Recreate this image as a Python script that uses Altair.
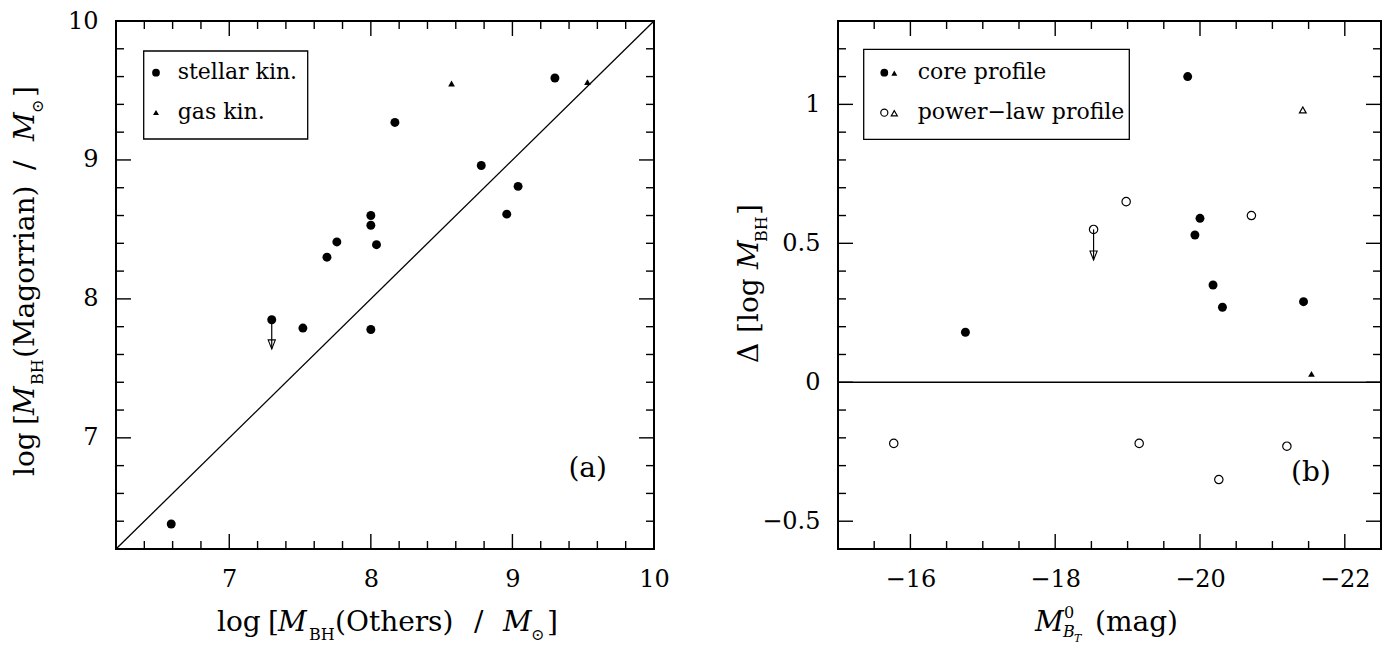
import altair as alt
import pandas as pd

FONT = "DejaVu Serif"

# ---------------- panel (a) data ----------------
a_stellar_x = [6.59, 7.30, 7.52, 8.00, 7.69, 7.76, 8.00, 8.00, 8.04, 8.17, 8.78, 8.96, 9.04, 9.30]
a_stellar_y = [6.38, 7.85, 7.79, 7.78, 8.30, 8.41, 8.60, 8.53, 8.39, 9.27, 8.96, 8.61, 8.81, 9.59]
a_gas_x = [8.57, 9.53]
a_gas_y = [9.55, 9.56]
a_limit_x = [7.30]
a_limit_from = [7.85]
a_limit_to = [7.64]
a_line_x = [6.2, 10.0]
a_line_y = [6.2, 10.0]
a_major = [7, 8, 9, 10]
a_minor = [6.4, 6.6, 6.8, 7.2, 7.4, 7.6, 7.8, 8.2, 8.4, 8.6, 8.8, 9.2, 9.4, 9.6, 9.8]

# ---------------- panel (b) data ----------------
b_core_circ_x = [-16.76, -19.83, -20.00, -19.93, -20.18, -20.31, -21.43]
b_core_circ_y = [0.18, 1.10, 0.59, 0.53, 0.35, 0.27, 0.29]
b_core_tri_x = [-21.54]
b_core_tri_y = [0.03]
b_pl_circ_x = [-15.77, -18.53, -18.98, -19.16, -20.71, -20.26, -21.20]
b_pl_circ_y = [-0.22, 0.55, 0.65, -0.22, 0.60, -0.35, -0.23]
b_pl_tri_x = [-21.42]
b_pl_tri_y = [0.98]
b_limit_x = [-18.53]
b_limit_from = [0.55]
b_limit_to = [0.44]
b_zero = [0.0]
b_x_major = [-16, -18, -20, -22]
b_x_minor = [-15.5, -16.5, -17, -17.5, -18.5, -19, -19.5, -20.5, -21, -21.5]
b_y_major = [-0.5, 0, 0.5, 1]
b_y_minor = [-0.4, -0.3, -0.2, -0.1, 0.1, 0.2, 0.3, 0.4, 0.6, 0.7, 0.8, 0.9, 1.1, 1.2]

W_A, W_B, H = 538, 543, 528
T_MAJ, T_MIN = 15, 8
ARROW_HEAD = "M0,0 L-0.8,-2 L0.8,-2 Z"


def one():
    return pd.DataFrame({"k": [0]})


def piece(t, x, y, size, italic=False, angle=0, align="left", baseline="alphabetic"):
    kw = dict(font=FONT, fontSize=size, align=align, baseline=baseline, color="black")
    if italic:
        kw["fontStyle"] = "italic"
    if angle:
        kw["angle"] = angle
    return alt.Chart(one()).mark_text(**kw).encode(
        x=alt.value(x), y=alt.value(y), text=alt.value(t))


def sym(x, y, shape, size, filled=True):
    kw = dict(shape=shape, size=size, filled=filled, color="black", opacity=1)
    if not filled:
        kw["strokeWidth"] = 1.2
    return alt.Chart(one()).mark_point(**kw).encode(x=alt.value(x), y=alt.value(y))


def tick_layers(X, Y, xmaj, xmin, ymaj, ymin, W):
    out = []
    for vals, L in ((xmaj, T_MAJ), (xmin, T_MIN)):
        df = pd.DataFrame({"v": vals})
        base = alt.Chart(df).mark_rule(color="black", strokeWidth=1.4)
        out.append(base.encode(x=X("v"), y=alt.value(H), y2=alt.value(H - L)))
        out.append(base.encode(x=X("v"), y=alt.value(0), y2=alt.value(L)))
    for vals, L in ((ymaj, T_MAJ), (ymin, T_MIN)):
        df = pd.DataFrame({"v": vals})
        base = alt.Chart(df).mark_rule(color="black", strokeWidth=1.4)
        out.append(base.encode(y=Y("v"), x=alt.value(0), x2=alt.value(L)))
        out.append(base.encode(y=Y("v"), x=alt.value(W), x2=alt.value(W - L)))
    return out


def axis(values):
    return alt.Axis(values=values, title=None, ticks=False, tickSize=0, domain=False,
                    grid=False, labelFont=FONT, labelFontSize=24, labelColor="black",
                    labelPadding=18, labelFlush=False, labelOverlap=False, format="~r")


# ================= panel (a) =================
sa = alt.Scale(domain=[6.2, 10], nice=False, zero=False)
XA = lambda f: alt.X(f, type="quantitative", scale=sa, axis=axis(a_major))
YA = lambda f: alt.Y(f, type="quantitative", scale=sa, axis=axis(a_major))

la = tick_layers(XA, YA, a_major, a_minor, a_major, a_minor, W_A)
la.append(alt.Chart(pd.DataFrame({"x": a_line_x, "y": a_line_y})).mark_line(
    color="black", strokeWidth=1.3).encode(x=XA("x"), y=YA("y")))
# legend
la.append(alt.Chart(one()).mark_rect(fill="white", stroke="black", strokeWidth=1.3).encode(
    x=alt.value(27.7), x2=alt.value(191.7), y=alt.value(30), y2=alt.value(118)))
la.append(sym(40, 51.7, "circle", 60))
la.append(sym(40, 91.5, "triangle-up", 36))
la.append(piece("stellar kin.", 61.7, 58.3, 22))
la.append(piece("gas kin.", 61.7, 98, 22))
# data
la.append(alt.Chart(pd.DataFrame({"x": a_stellar_x, "y": a_stellar_y})).mark_point(
    shape="circle", filled=True, size=80, color="black", opacity=1).encode(x=XA("x"), y=YA("y")))
la.append(alt.Chart(pd.DataFrame({"x": a_gas_x, "y": a_gas_y})).mark_point(
    shape="triangle-up", filled=True, size=45, color="black", opacity=1).encode(x=XA("x"), y=YA("y")))
dfa_lim = pd.DataFrame({"x": a_limit_x, "y": a_limit_from, "y2": a_limit_to})
la.append(alt.Chart(dfa_lim).mark_rule(color="black", strokeWidth=1.2).encode(
    x=XA("x"), y=YA("y"), y2=alt.Y2("y2")))
la.append(alt.Chart(dfa_lim).mark_point(shape=ARROW_HEAD, filled=False, size=81, color="black",
                                         strokeWidth=1.1, opacity=1).encode(x=XA("x"), y=YA("y2")))
la.append(piece("(a)", 471.7, 447.5, 28, align="center", baseline="middle"))
# x title
XT = 610
for t, x, y, s, it in [("log", 101, XT, 28, False), ("[", 152, XT, 28, False),
                       ("M", 162, XT, 28, True), ("BH", 193, XT + 9, 16, False),
                       ("(Others)", 219, XT, 28, False), ("/", 358, XT, 28, False),
                       ("M", 387, XT, 28, True), ("\u2299", 415, XT + 9, 16, False),
                       ("]", 431, XT, 28, False)]:
    la.append(piece(t, x, y, s, italic=it))
# y title (rotated)
YB, YS = -82, -73
for t, s_, x, s, it in [("log", 0, YB, 28, False), ("[", 51, YB, 28, False),
                        ("M", 61, YB, 28, True), ("BH", 91, YS, 16, False),
                        ("(Magorrian)", 118, YB, 28, False), ("/", 306, YB, 28, False),
                        ("M", 335, YB, 28, True), ("\u2299", 363, YS, 16, False),
                        ("]", 379, YB, 28, False)]:
    la.append(piece(t, x, 455 - s_, s, italic=it, angle=270))

panel_a = alt.layer(*la).properties(width=W_A, height=H)

# ================= panel (b) =================
sbx = alt.Scale(domain=[-22.5, -15], reverse=True, nice=False, zero=False)
sby = alt.Scale(domain=[-0.6, 1.3], nice=False, zero=False)
XB = lambda f: alt.X(f, type="quantitative", scale=sbx, axis=axis(b_x_major))
YB_ = lambda f: alt.Y(f, type="quantitative", scale=sby, axis=axis(b_y_major))

lb = tick_layers(XB, YB_, b_x_major, b_x_minor, b_y_major, b_y_minor, W_B)
lb.append(alt.Chart(pd.DataFrame({"y": b_zero})).mark_rule(color="black", strokeWidth=1.3).encode(
    y=YB_("y"), x=alt.value(0), x2=alt.value(W_B)))
lb.append(alt.Chart(one()).mark_rect(fill="white", stroke="black", strokeWidth=1.3).encode(
    x=alt.value(25.7), x2=alt.value(291.3), y=alt.value(28.3), y2=alt.value(118.3)))
lb.append(sym(46.3, 51.7, "circle", 60))
lb.append(sym(56.3, 52.2, "triangle-up", 36))
lb.append(sym(46.3, 91.7, "circle", 50, filled=False))
lb.append(sym(56.3, 92.2, "triangle-up", 36, filled=False))
lb.append(piece("core profile", 79.7, 58.3, 22))
lb.append(piece("power\u2212law profile", 79.7, 98.3, 22))

lb.append(alt.Chart(pd.DataFrame({"x": b_core_circ_x, "y": b_core_circ_y})).mark_point(
    shape="circle", filled=True, size=80, color="black", opacity=1).encode(x=XB("x"), y=YB_("y")))
lb.append(alt.Chart(pd.DataFrame({"x": b_core_tri_x, "y": b_core_tri_y})).mark_point(
    shape="triangle-up", filled=True, size=45, color="black", opacity=1).encode(x=XB("x"), y=YB_("y")))
lb.append(alt.Chart(pd.DataFrame({"x": b_pl_circ_x, "y": b_pl_circ_y})).mark_point(
    shape="circle", filled=False, size=70, color="black", strokeWidth=1.2, opacity=1).encode(
    x=XB("x"), y=YB_("y")))
lb.append(alt.Chart(pd.DataFrame({"x": b_pl_tri_x, "y": b_pl_tri_y})).mark_point(
    shape="triangle-up", filled=False, size=45, color="black", strokeWidth=1.2, opacity=1).encode(
    x=XB("x"), y=YB_("y")))
dfb_lim = pd.DataFrame({"x": b_limit_x, "y": b_limit_from, "y2": b_limit_to})
lb.append(alt.Chart(dfb_lim).mark_rule(color="black", strokeWidth=1.2).encode(
    x=XB("x"), y=YB_("y"), y2=alt.Y2("y2")))
lb.append(alt.Chart(dfb_lim).mark_point(shape=ARROW_HEAD, filled=False, size=81, color="black",
                                         strokeWidth=1.1, opacity=1).encode(x=XB("x"), y=YB_("y2")))
lb.append(piece("(b)", 473, 451.7, 28, align="center", baseline="middle"))
# x title
for t, x, y, s, it in [("M", 197, XT, 28, True), ("0", 226, XT - 13, 16, False),
                       ("B", 225, XT + 6, 16, True), ("T", 236, XT + 11, 11, True),
                       ("(mag)", 257, XT, 28, False)]:
    lb.append(piece(t, x, y, s, italic=it))
# y title (rotated)
RB, RS = -80, -71
for t, s_, x, s, it in [("\u0394", 0, RB, 28, False), ("[", 30, RB, 28, False),
                        ("log", 41, RB, 28, False), ("M", 94, RB, 28, True),
                        ("BH", 121, RS, 16, False), ("]", 148, RB, 28, False)]:
    lb.append(piece(t, x, 342 - s_, s, italic=it, angle=270))

panel_b = alt.layer(*lb).properties(width=W_B, height=H)

chart = alt.hconcat(panel_a, panel_b, spacing=184, bounds="flush",
                    padding={"top": 0, "left": 3, "right": 5, "bottom": 0}
                    ).configure_view(stroke="black", strokeWidth=2)

chart.save("out.html", embed_options={"renderer": "svg", "actions": False})
